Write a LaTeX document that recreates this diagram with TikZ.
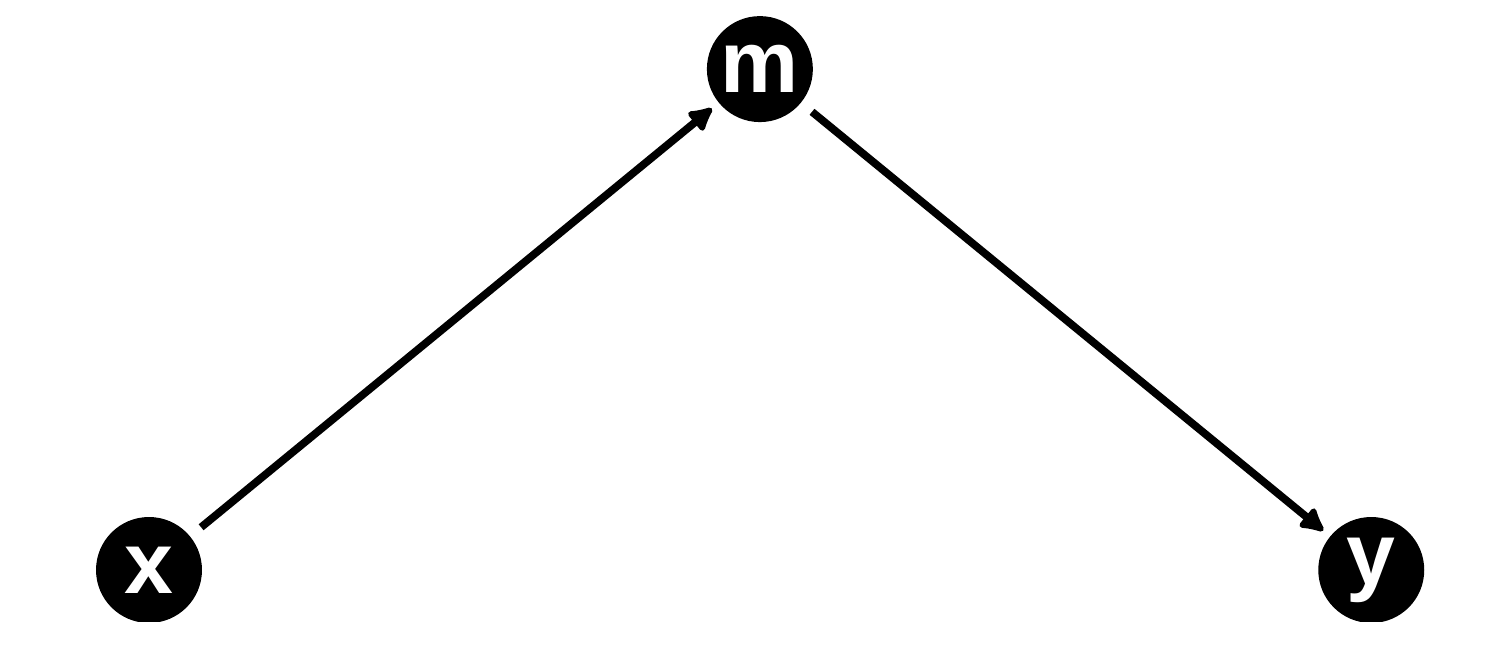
\documentclass[tikz,border=0pt]{standalone}
\usepackage{fontspec}
\setmainfont{Liberation Sans}
\usetikzlibrary{arrows.meta, positioning}

\begin{document}
\begin{tikzpicture}[x=0.02cm, y=-0.02cm,
			var/.style={fill=black, circle, inner sep=0pt, minimum size=2.12cm, text=white, font=\fontsize{50}{50}\selectfont\bfseries, node distance={10cm}, on grid},
			path/.style={line width=4.4pt, black, -{Latex[length=16pt, width=17pt, round]}, shorten <=8pt, shorten >=5pt}
			]
			\useasboundingbox (0,0) rectangle (1512,648);
			\clip (0,17) rectangle (1512,621);
			\node [var](x) at (149,570) {x};
			\node [var](m) [above right=10.02cm and 12.22cm of x] {m};
			\node [var](y) [right=24.45cm of x] {y};

			\draw[path] (x) -- (m);
			\draw[path] (m) -- (y);
		\end{tikzpicture}
\end{document}
